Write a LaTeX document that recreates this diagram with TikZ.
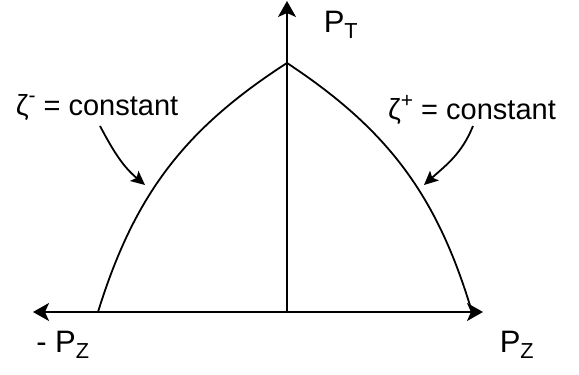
\documentclass[tikz,border=0pt]{standalone}
\usepackage{fontspec}
\setmainfont{Liberation Sans}
\usetikzlibrary{arrows.meta}

\newcommand{\zsup}[1]{\raisebox{0.42em}{\fontsize{21}{21}\selectfont #1}}

\begin{document}
\begin{tikzpicture}[x=1pt, y=1pt,
  axis/.style={line width=1.8pt},
  curve/.style={line width=1.8pt},
  pointer/.style={line width=1.8pt, -{Stealth[length=14pt, width=13pt, inset=3pt]}},
  lbl/.style={font=\fontsize{29}{34}\selectfont, inner sep=2pt},
  axlbl/.style={font=\fontsize{31}{36}\selectfont, inner sep=2pt}]

\useasboundingbox (0,0) rectangle (579,375);

% Axes
\coordinate (origin) at (287,63);
\coordinate (zleft) at (33,63);
\coordinate (zright) at (483,63);
\coordinate (ttop) at (287,374);
\draw[axis, {Stealth[length=16pt, width=18pt, inset=4pt]}-{Stealth[length=16pt, width=18pt, inset=4pt]}] (zleft) -- (zright);
\draw[axis, -{Stealth[length=16pt, width=18pt, inset=4pt]}] (origin) -- (ttop);

% Boundary curves
\coordinate (apex) at (287,312);
\coordinate (footL) at (98,63);
\coordinate (footR) at (472,63);
\draw[curve] (apex) to[bend right=20] (footL);
\draw[curve] (apex) to[bend left=20] (footR);

% Labels
\node[axlbl] (ptlabel) at (341,350) {P\textsubscript{T}};
\node[axlbl] (pzneg) at (63,30) {- P\textsubscript{Z}};
\node[axlbl] (pzpos) at (517,30) {P\textsubscript{Z}};
\node[lbl] (zetaminus) at (97,268) {ζ\zsup{-} = constant};
\node[lbl] (zetaplus) at (472,265) {ζ\zsup{+} = constant};

\coordinate (tipL) at (145,190);
\coordinate (tipR) at (424,190);
\draw[pointer] (100,249) to[out=-62, in=140] (tipL);
\draw[pointer] (473,249) to[out=-112, in=42] (tipR);

\end{tikzpicture}
\end{document}
